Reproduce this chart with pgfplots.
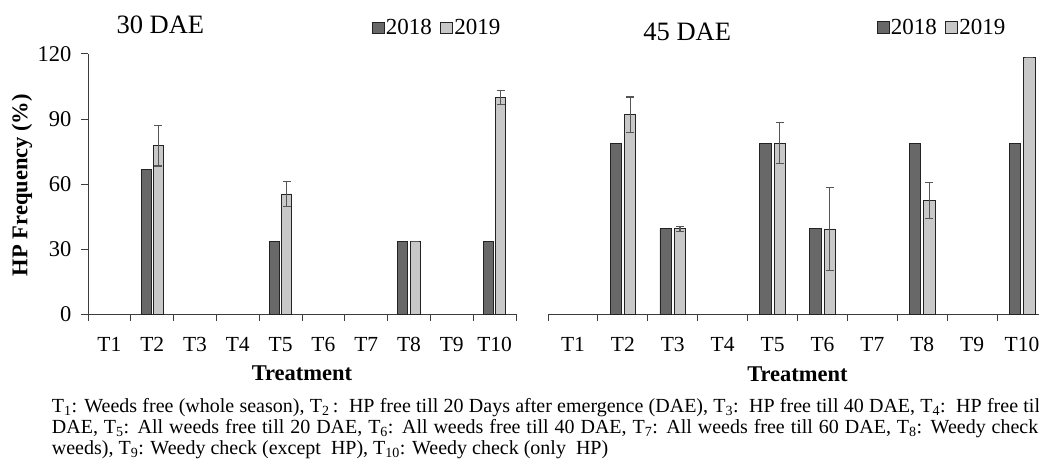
\documentclass[border=0pt]{standalone}
\usepackage{fontspec}
\setmainfont{Liberation Serif}
\usepackage{pgfplots}
\pgfplotsset{compat=1.18}
\definecolor{dk}{RGB}{104,104,104}
\definecolor{lt}{RGB}{200,200,200}
\definecolor{bd}{RGB}{35,35,35}
\definecolor{errc}{RGB}{85,85,85}
\definecolor{axc}{RGB}{60,60,60}
\pgfplotsset{
  mybase/.style={
    scale only axis, anchor=south west, height=260pt,
    xmin=0.5, xmax=10.5, ymin=0, ymax=120,
    ybar, clip=false,
    axis x line*=bottom,
    axis line style={draw=axc, line width=1pt},
    tick align=outside,
    major tick length=7pt,
    tick style={draw=axc, line width=1pt},
    xtick={0.5,1.5,...,10.5},
    xticklabels={},
    extra x ticks={1,2,...,10},
    extra x tick labels={T1,T2,T3,T4,T5,T6,T7,T8,T9,T10},
    extra x tick style={major tick length=0pt, tick style={draw=none}},
    xticklabel style={inner sep=0pt, yshift=-23pt, font=\fontsize{21.5}{21.5}\selectfont},
    xlabel={Treatment},
    xlabel style={at={(axis description cs:0.5,-0.229)}, anchor=center, font=\bfseries\fontsize{22.5}{22.5}\selectfont},
    legend columns=2,
    legend style={draw=none, fill=none, inner sep=0pt, font=\fontsize{23}{23}\selectfont,
      nodes={inner sep=1.5pt},
      /tikz/every even column/.append style={column sep=7pt}},
    /pgf/number format/assume math mode=true,
  },
  b18/.style={fill=dk, draw=bd, line width=0.8pt, forget plot},
  b19/.style={fill=lt, draw=bd, line width=0.8pt, forget plot,
    error bars/y dir=both, error bars/y explicit,
    error bars/error bar style={color=errc, line width=1.1pt},
    error bars/error mark options={rotate=90, color=errc, line width=1.1pt, mark size=4pt}},
}
\begin{document}
\begin{tikzpicture}
\path[use as bounding box, clip] (0pt,0pt) rectangle (1039pt,472pt);
% ---------- left panel: 30 DAE ----------
\begin{axis}[mybase, at={(88pt,158pt)}, width=428pt,
  axis y line*=left,
  ytick={0,30,60,90,120},
  yticklabel style={font=\fontsize{22.5}{22.5}\selectfont, xshift=-6pt},
  ylabel={HP Frequency (\%)},
  ylabel style={at={(axis description cs:-0.154,0.496)}, anchor=center, font=\bfseries\fontsize{22.5}{22.5}\selectfont},
  legend style={at={(axis description cs:0.663,1.1)}, anchor=west},
]
\addlegendimage{legend image code/.code={\draw[fill=dk,draw=bd,line width=0.8pt] (0pt,-5.8pt) rectangle (11.6pt,5.8pt);}}
\addlegendentry{2018}
\addlegendimage{legend image code/.code={\draw[fill=lt,draw=bd,line width=0.8pt] (0pt,-5.8pt) rectangle (11.6pt,5.8pt);}}
\addlegendentry{2019}
\addplot[bar width=10pt, bar shift=-6.2pt, b18] coordinates {(2,66.7) (5,33.3) (8,33.3) (10,33.3)};
\addplot[bar width=10pt, bar shift=6.2pt, b19] coordinates {(2,77.6) +- (0,9.3) (5,55.4) +- (0,5.6) (8,33.3) +- (0,0) (10,99.8) +- (0,3.3)};
\node[font=\fontsize{26.5}{26.5}\selectfont, inner sep=0pt] at (rel axis cs:0.169,1.1115) {30 DAE};
\end{axis}
% ---------- right panel: 45 DAE ----------
\begin{axis}[mybase, at={(548pt,157.7pt)}, width=499pt,
  hide y axis,
  legend style={at={(axis description cs:0.659,1.103)}, anchor=west},
]
\addlegendimage{legend image code/.code={\draw[fill=dk,draw=bd,line width=0.8pt] (0pt,-5.8pt) rectangle (11.6pt,5.8pt);}}
\addlegendentry{2018}
\addlegendimage{legend image code/.code={\draw[fill=lt,draw=bd,line width=0.8pt] (0pt,-5.8pt) rectangle (11.6pt,5.8pt);}}
\addlegendentry{2019}
\addplot[bar width=11.3pt, bar shift=-7.2pt, b18] coordinates {(2,79) (3,39.5) (5,79) (6,39.5) (8,79) (10,79)};
\addplot[bar width=11.3pt, bar shift=7.2pt, b19] coordinates {(2,92.2) +- (0,8.1) (3,39.5) +- (0,1.2) (5,79) +- (0,9.6) (6,39.4) +- (0,19) (8,52.5) +- (0,8.2) (10,118.6) +- (0,0)};
\node[font=\fontsize{26.5}{26.5}\selectfont, inner sep=0pt] at (rel axis cs:0.279,1.088) {45 DAE};
\end{axis}
% ---------- caption ----------
\begin{scope}[every node/.style={anchor=base west, inner sep=0pt, font=\fontsize{20}{20}\selectfont}]
\node at (51.7pt,60pt) {\makebox[1019pt][s]{T\textsubscript{1}: Weeds free (whole season), T\textsubscript{2}\,:\ \ HP free till 20 Days after emergence (DAE), T\textsubscript{3}:\ \ HP free till 40 DAE, T\textsubscript{4}:\ \ HP free till 60}};
\node at (51.7pt,39pt) {\makebox[1019pt][s]{DAE, T\textsubscript{5}: All weeds free till 20 DAE, T\textsubscript{6}: All weeds free till 40 DAE, T\textsubscript{7}: All weeds free till 60 DAE, T\textsubscript{8}: Weedy check (all}};
\node at (51.7pt,18pt) {weeds), T\textsubscript{9}: Weedy check (except\ \ HP), T\textsubscript{10}: Weedy check (only\ \ HP)};
\end{scope}
\end{tikzpicture}
\end{document}
